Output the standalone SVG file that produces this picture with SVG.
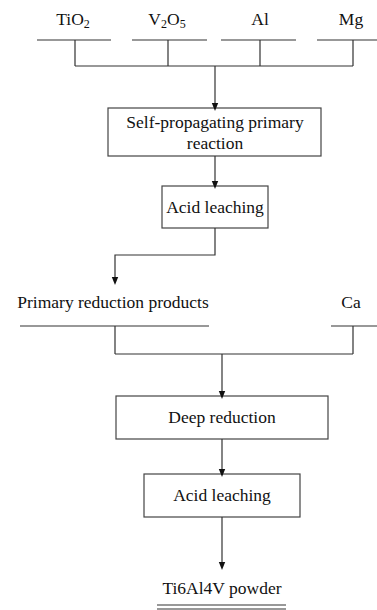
<svg xmlns="http://www.w3.org/2000/svg" width="377" height="610" viewBox="0 0 377 610">
<style>
text{font-family:"Liberation Serif","Times New Roman",serif;font-size:17.5px;fill:#111;text-anchor:middle}
.sub{font-size:12px}
.ln{stroke:#333;stroke-width:1.2;fill:none}
.box{stroke:#444;stroke-width:1.2;fill:#fff}
</style>
<defs>
<marker id="ad" markerWidth="8" markerHeight="10" refX="5" refY="4" orient="auto" markerUnits="userSpaceOnUse" viewBox="0 0 10 8">
<path d="M0,0 L10,4 L0,8 Z" fill="#111"/>
</marker>
</defs>
<g id="inputs">
<g id="tio2"><text x="73" y="25">TiO<tspan class="sub" dy="3">2</tspan></text><line class="ln" x1="37" y1="40" x2="111" y2="40"/></g>
<g id="v2o5"><text x="167" y="25">V<tspan class="sub" dy="3">2</tspan><tspan dy="-3">O</tspan><tspan class="sub" dy="3">5</tspan></text><line class="ln" x1="132" y1="40" x2="207" y2="40"/></g>
<g id="al"><text x="260" y="25">Al</text><line class="ln" x1="221" y1="40" x2="296" y2="40"/></g>
<g id="mg"><text x="351" y="25">Mg</text><line class="ln" x1="317" y1="40" x2="377" y2="40"/></g>
</g>
<g id="n1"><rect class="box" x="108" y="108" width="213" height="48"/><text x="215" y="128">Self-propagating primary</text><text x="215" y="149">reaction</text></g>
<g id="n2"><rect class="box" x="162" y="186" width="106" height="42"/><text x="215" y="213">Acid leaching</text></g>
<g id="prp"><text x="113" y="308">Primary reduction products</text><line class="ln" x1="20" y1="326" x2="209" y2="326"/></g>
<g id="ca"><text x="351" y="308">Ca</text><line class="ln" x1="331" y1="326" x2="377" y2="326"/></g>
<g id="n3"><rect class="box" x="116" y="396" width="212" height="43"/><text x="222" y="423">Deep reduction</text></g>
<g id="n4"><rect class="box" x="144" y="474" width="156" height="43"/><text x="222" y="501">Acid leaching</text></g>
<g id="product"><text x="222" y="594">Ti6Al4V powder</text><line class="ln" x1="157" y1="605" x2="286" y2="605"/><line class="ln" x1="157" y1="609" x2="286" y2="609"/></g>
<g id="connectors">
<path class="ln" d="M75,40 V66 M168,40 V66 M260,40 V66 M353,40 V66 M75,66 H353"/>
<path class="ln" d="M215,66 V107" marker-end="url(#ad)"/>
<path class="ln" d="M215,156 V185" marker-end="url(#ad)"/>
<path class="ln" d="M215,228 V255 H115 V281" marker-end="url(#ad)"/>
<path class="ln" d="M115,326 V354 M353,326 V354 M115,354 H353"/>
<path class="ln" d="M222,354 V395" marker-end="url(#ad)"/>
<path class="ln" d="M222,439 V473" marker-end="url(#ad)"/>
<path class="ln" d="M222,517 V566" marker-end="url(#ad)"/>
</g>
</svg>
